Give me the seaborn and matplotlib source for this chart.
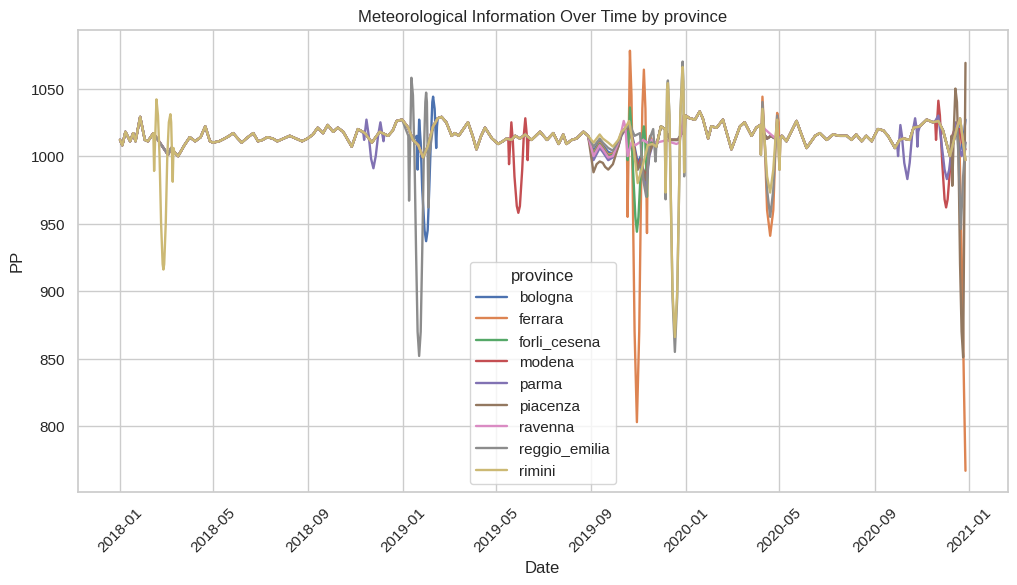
import matplotlib
matplotlib.use('Agg')
import matplotlib.pyplot as plt
import pandas as pd
import seaborn as sns

# days counted from the first date of the series
START = pd.Timestamp('2018-01-01')

provinces = ['bologna', 'ferrara', 'forli_cesena', 'modena', 'parma',
             'piacenza', 'ravenna', 'reggio_emilia', 'rimini']

# shared pressure curve (most provinces follow it outside the spikes)
base_day = [0, 3, 7, 13, 17, 20, 26, 32, 36, 43, 62, 66, 70, 75, 83, 90, 97, 104, 110, 116,
            120, 128, 135, 141, 146, 152, 157, 165, 172, 178, 184, 190, 197, 203, 211, 219,
            227, 235, 242, 249, 255, 262, 268, 275, 281, 288, 299, 307, 316, 325, 335, 346,
            352, 357, 364, 372, 378, 385, 391, 397, 404, 410, 415, 421, 428, 432, 437, 443,
            449, 455, 460, 466, 471, 480, 488, 494, 499, 505, 510, 516, 523, 531, 542, 551,
            559, 566, 572, 576, 583, 589, 598, 604, 611, 619, 623, 630, 636, 643, 647, 651,
            657, 663, 668, 675, 681, 687, 692, 698, 703, 710, 720, 726, 730, 735, 742, 748,
            752, 759, 763, 770, 778, 789, 800, 806, 815, 821, 826, 829, 835, 840, 848, 854,
            860, 866, 873, 880, 886, 897, 903, 912, 920, 929, 938, 944, 950, 957, 963, 970,
            978, 985, 991, 1000, 1006, 1011, 1019, 1024, 1032, 1041, 1049, 1056, 1062, 1071,
            1080, 1084, 1091]
base_pp = [1012, 1008, 1018, 1011, 1017, 1011, 1029, 1012, 1011, 1017, 1001, 1006, 1003, 1000,
           1008, 1014, 1011, 1014, 1022, 1011, 1010, 1011, 1013, 1015, 1017, 1013, 1010, 1014,
           1017, 1011, 1012, 1014, 1013, 1011, 1013, 1015, 1013, 1011, 1013, 1016, 1021, 1017,
           1023, 1018, 1021, 1018, 1007, 1020, 1017, 1010, 1018, 1015, 1019, 1026, 1027, 1021,
           1012, 1008, 999, 1007, 1022, 1028, 1029, 1025, 1015, 1017, 1015, 1020, 1025, 1015,
           1005, 1015, 1021, 1013, 1009, 1011, 1013, 1012, 1015, 1013, 1016, 1012, 1018, 1012,
           1017, 1009, 1016, 1009, 1012, 1013, 1018, 1015, 1010, 1016, 1013, 1010, 1007, 1012,
           1018, 1020, 1026, 1005, 980, 994, 1008, 1009, 1007, 1022, 1020, 1012, 1012, 1018,
           1030, 1028, 1027, 1033, 1028, 1013, 1022, 1021, 1027, 1005, 1022, 1025, 1015, 1021,
           1023, 1018, 1013, 1015, 1012, 1015, 1011, 1018, 1026, 1015, 1006, 1015, 1017, 1012,
           1016, 1015, 1015, 1012, 1016, 1011, 1015, 1011, 1020, 1019, 1015, 1006, 1012, 1013,
           1012, 1021, 1022, 1027, 1025, 1026, 1019, 1000, 1021, 1028, 997]

# province specific stretches (day, PP) that replace the shared curve
bologna_segments = [
    [(383, 1015), (384, 990), (386, 1027), (388, 1010), (390, 975), (393, 945), (395, 937),
     (397, 945), (399, 975), (401, 1010), (403, 1040), (404, 1044), (406, 1035), (408, 1006),
     (409, 1022)],
    [(611, 1004), (619, 1011), (623, 1008), (630, 1003), (636, 1002), (643, 1010), (647, 1017)],
    [(651, 1020), (658, 1022), (663, 1010), (668, 995), (672, 1000), (675, 990), (679, 980),
     (683, 1005), (688, 1012), (692, 1007)],
    [(1084, 1025), (1087, 1005), (1091, 1027)],
]
ferrara_segments = [
    [(611, 1002), (619, 1010), (623, 1007), (630, 1001), (636, 1002), (643, 1010), (647, 1016)],
    [(651, 1019), (654, 1020), (655, 955), (658, 1078), (660, 1045), (662, 960), (664, 870),
     (667, 803), (670, 870), (672, 960), (674, 1035), (676, 1064), (678, 1035), (680, 943),
     (681, 1005), (684, 1015), (688, 1010), (692, 1007)],
    [(827, 1001), (829, 1044), (832, 1010), (835, 960), (839, 941), (843, 960), (846, 1010),
     (848, 1032), (850, 1025), (851, 990), (852, 1012)],
    [(1080, 1025), (1083, 1015), (1085, 960), (1087, 900), (1089, 830), (1091, 767)],
]
forli_cesena_segments = [
    [(611, 1001), (619, 1009), (623, 1006), (630, 1000), (636, 1001), (643, 1009), (647, 1016)],
    [(651, 1019), (654, 1020), (655, 997), (658, 1036), (660, 1020), (662, 990), (665, 955),
     (667, 944), (669, 955), (672, 990), (674, 1012), (676, 1022), (678, 1010), (680, 970),
     (681, 1000), (685, 1012), (690, 1008), (692, 1007)],
]
modena_segments = [
    [(501, 1013), (502, 994), (505, 1025), (507, 1010), (509, 985), (512, 963), (514, 958),
     (516, 963), (519, 990), (521, 1015), (523, 1028), (525, 1015), (526, 997), (527, 1012)],
    [(611, 999), (619, 1008), (623, 1005), (630, 999), (636, 1000), (643, 1008), (647, 1016)],
    [(651, 1019), (658, 1021), (663, 1008), (668, 992), (672, 998), (675, 990), (679, 985),
     (683, 1003), (688, 1010), (692, 1007)],
    [(1052, 1025), (1053, 1012), (1056, 1041), (1058, 1030), (1061, 995), (1064, 968),
     (1066, 962), (1068, 968), (1071, 990), (1074, 1015), (1077, 1020), (1080, 1015),
     (1083, 1020), (1087, 1010), (1091, 1005)],
]
parma_segments = [
    [(314, 1017), (315, 1012), (318, 1027), (321, 1015), (324, 998), (327, 991), (330, 1000),
     (333, 1015), (336, 1025), (338, 1018), (340, 1011), (341, 1016)],
    [(611, 997), (619, 1006), (623, 1003), (630, 997), (636, 999), (643, 1007), (647, 1015)],
    [(651, 1019), (658, 1021), (663, 1005), (668, 990), (672, 995), (675, 985), (679, 978),
     (683, 1000), (688, 1010), (692, 1007)],
    [(1003, 1008), (1004, 1000), (1007, 1023), (1009, 1015), (1012, 995), (1016, 983),
     (1019, 995), (1022, 1015), (1026, 1028), (1028, 1020), (1029, 1007), (1030, 1018)],
    [(1052, 1026), (1056, 1030), (1060, 1010), (1064, 990), (1067, 983), (1070, 990),
     (1074, 1010), (1078, 1025), (1082, 1010), (1086, 1000), (1091, 1010)],
]
piacenza_segments = [
    [(611, 988), (615, 994), (619, 996), (623, 995), (626, 992), (630, 990), (636, 994),
     (643, 1007), (647, 1016)],
    [(651, 1019), (658, 1021), (663, 1006), (668, 990), (672, 996), (675, 990), (679, 982),
     (683, 1002), (688, 1010), (692, 1007)],
    [(1073, 1015), (1074, 978), (1076, 1020), (1078, 1050), (1080, 1040), (1082, 1000),
     (1084, 920), (1086, 870), (1088, 851), (1091, 1069)],
]
ravenna_segments = [
    [(611, 1000), (619, 1008), (623, 1005), (630, 999), (636, 1000), (643, 1010), (647, 1018),
     (650, 1026), (652, 1022), (655, 1000), (660, 1010), (665, 1008), (670, 1010), (675, 1012),
     (680, 1010), (686, 1012), (692, 1010), (700, 1011), (706, 1012), (712, 1010), (718, 1009),
     (722, 1010), (725, 1020), (727, 1030)],
    [(826, 1023), (848, 1012)],
]
reggio_emilia_segments = [
    [(372, 1015), (373, 967), (376, 1058), (378, 1045), (380, 1000), (382, 930), (384, 870),
     (386, 852), (388, 870), (390, 930), (392, 1000), (394, 1040), (395, 1047), (396, 1040),
     (398, 962), (399, 1000)],
    [(611, 1007), (619, 1013), (623, 1010), (630, 1006), (636, 1004), (643, 1011), (647, 1017)],
    [(651, 1020), (658, 1023), (664, 1015), (671, 1017), (675, 983), (679, 970), (683, 1012),
     (688, 1020), (691, 996), (692, 1007)],
    [(704, 968), (706, 1050), (707, 1056), (709, 1030), (711, 960), (713, 895), (716, 855),
     (719, 895), (721, 960), (723, 1030), (726, 1070), (727, 1055), (728, 985), (729, 1020)],
    [(827, 1001), (829, 1040), (832, 1010), (835, 975), (839, 955), (843, 975), (846, 1010),
     (848, 1030), (851, 990), (852, 1012)],
    [(1082, 1000), (1085, 946), (1088, 985), (1091, 1010)],
]
rimini_segments = [
    [(43, 1017), (44, 989), (47, 1042), (49, 1030), (51, 1000), (53, 950), (55, 920), (56, 916),
     (57, 920), (59, 950), (61, 1000), (63, 1025), (65, 1031), (66, 1025), (68, 981), (69, 1006),
     (70, 1003)],
    [(704, 973), (706, 1050), (707, 1054), (709, 1030), (711, 960), (713, 900), (716, 866),
     (719, 900), (721, 960), (723, 1030), (726, 1066), (727, 1050), (728, 988), (729, 1020)],
    [(827, 1001), (829, 1035), (832, 1010), (835, 985), (839, 973), (843, 990), (846, 1015),
     (848, 1027), (851, 990), (852, 1012)],
]

province_segments = [bologna_segments, ferrara_segments, forli_cesena_segments,
                     modena_segments, parma_segments, piacenza_segments,
                     ravenna_segments, reggio_emilia_segments, rimini_segments]


def province_series(segments):
    # shared curve, with each province stretch swapped in
    points = dict(zip(base_day, base_pp))
    for seg in segments:
        lo, hi = seg[0][0], seg[-1][0]
        points = {d: v for d, v in points.items() if d < lo or d > hi}
        points.update(dict(seg))
    days = sorted(points)
    return days, [points[d] for d in days]


frames = []
for name, segments in zip(provinces, province_segments):
    days, values = province_series(segments)
    frames.append(pd.DataFrame({
        'Date': START + pd.to_timedelta(days, unit='D'),
        'PP': values,
        'province': name,
    }))
df = pd.concat(frames, ignore_index=True)

sns.set_theme(style='whitegrid')
# Arial-like face, set after the theme
plt.rcParams['font.family'] = ['Liberation Sans', 'DejaVu Sans']

fig, ax = plt.subplots(figsize=(12, 6))

sns.lineplot(data=df, x='Date', y='PP', hue='province', hue_order=provinces,
             linewidth=1.7, ax=ax)

ax.set_title('Meteorological Information Over Time by province')
ax.set_xlabel('Date')
ax.set_ylabel('PP')
plt.xticks(rotation=45)
ax.legend(title='province', loc='lower center')

plt.savefig('out.png', dpi=100, bbox_inches='tight')
